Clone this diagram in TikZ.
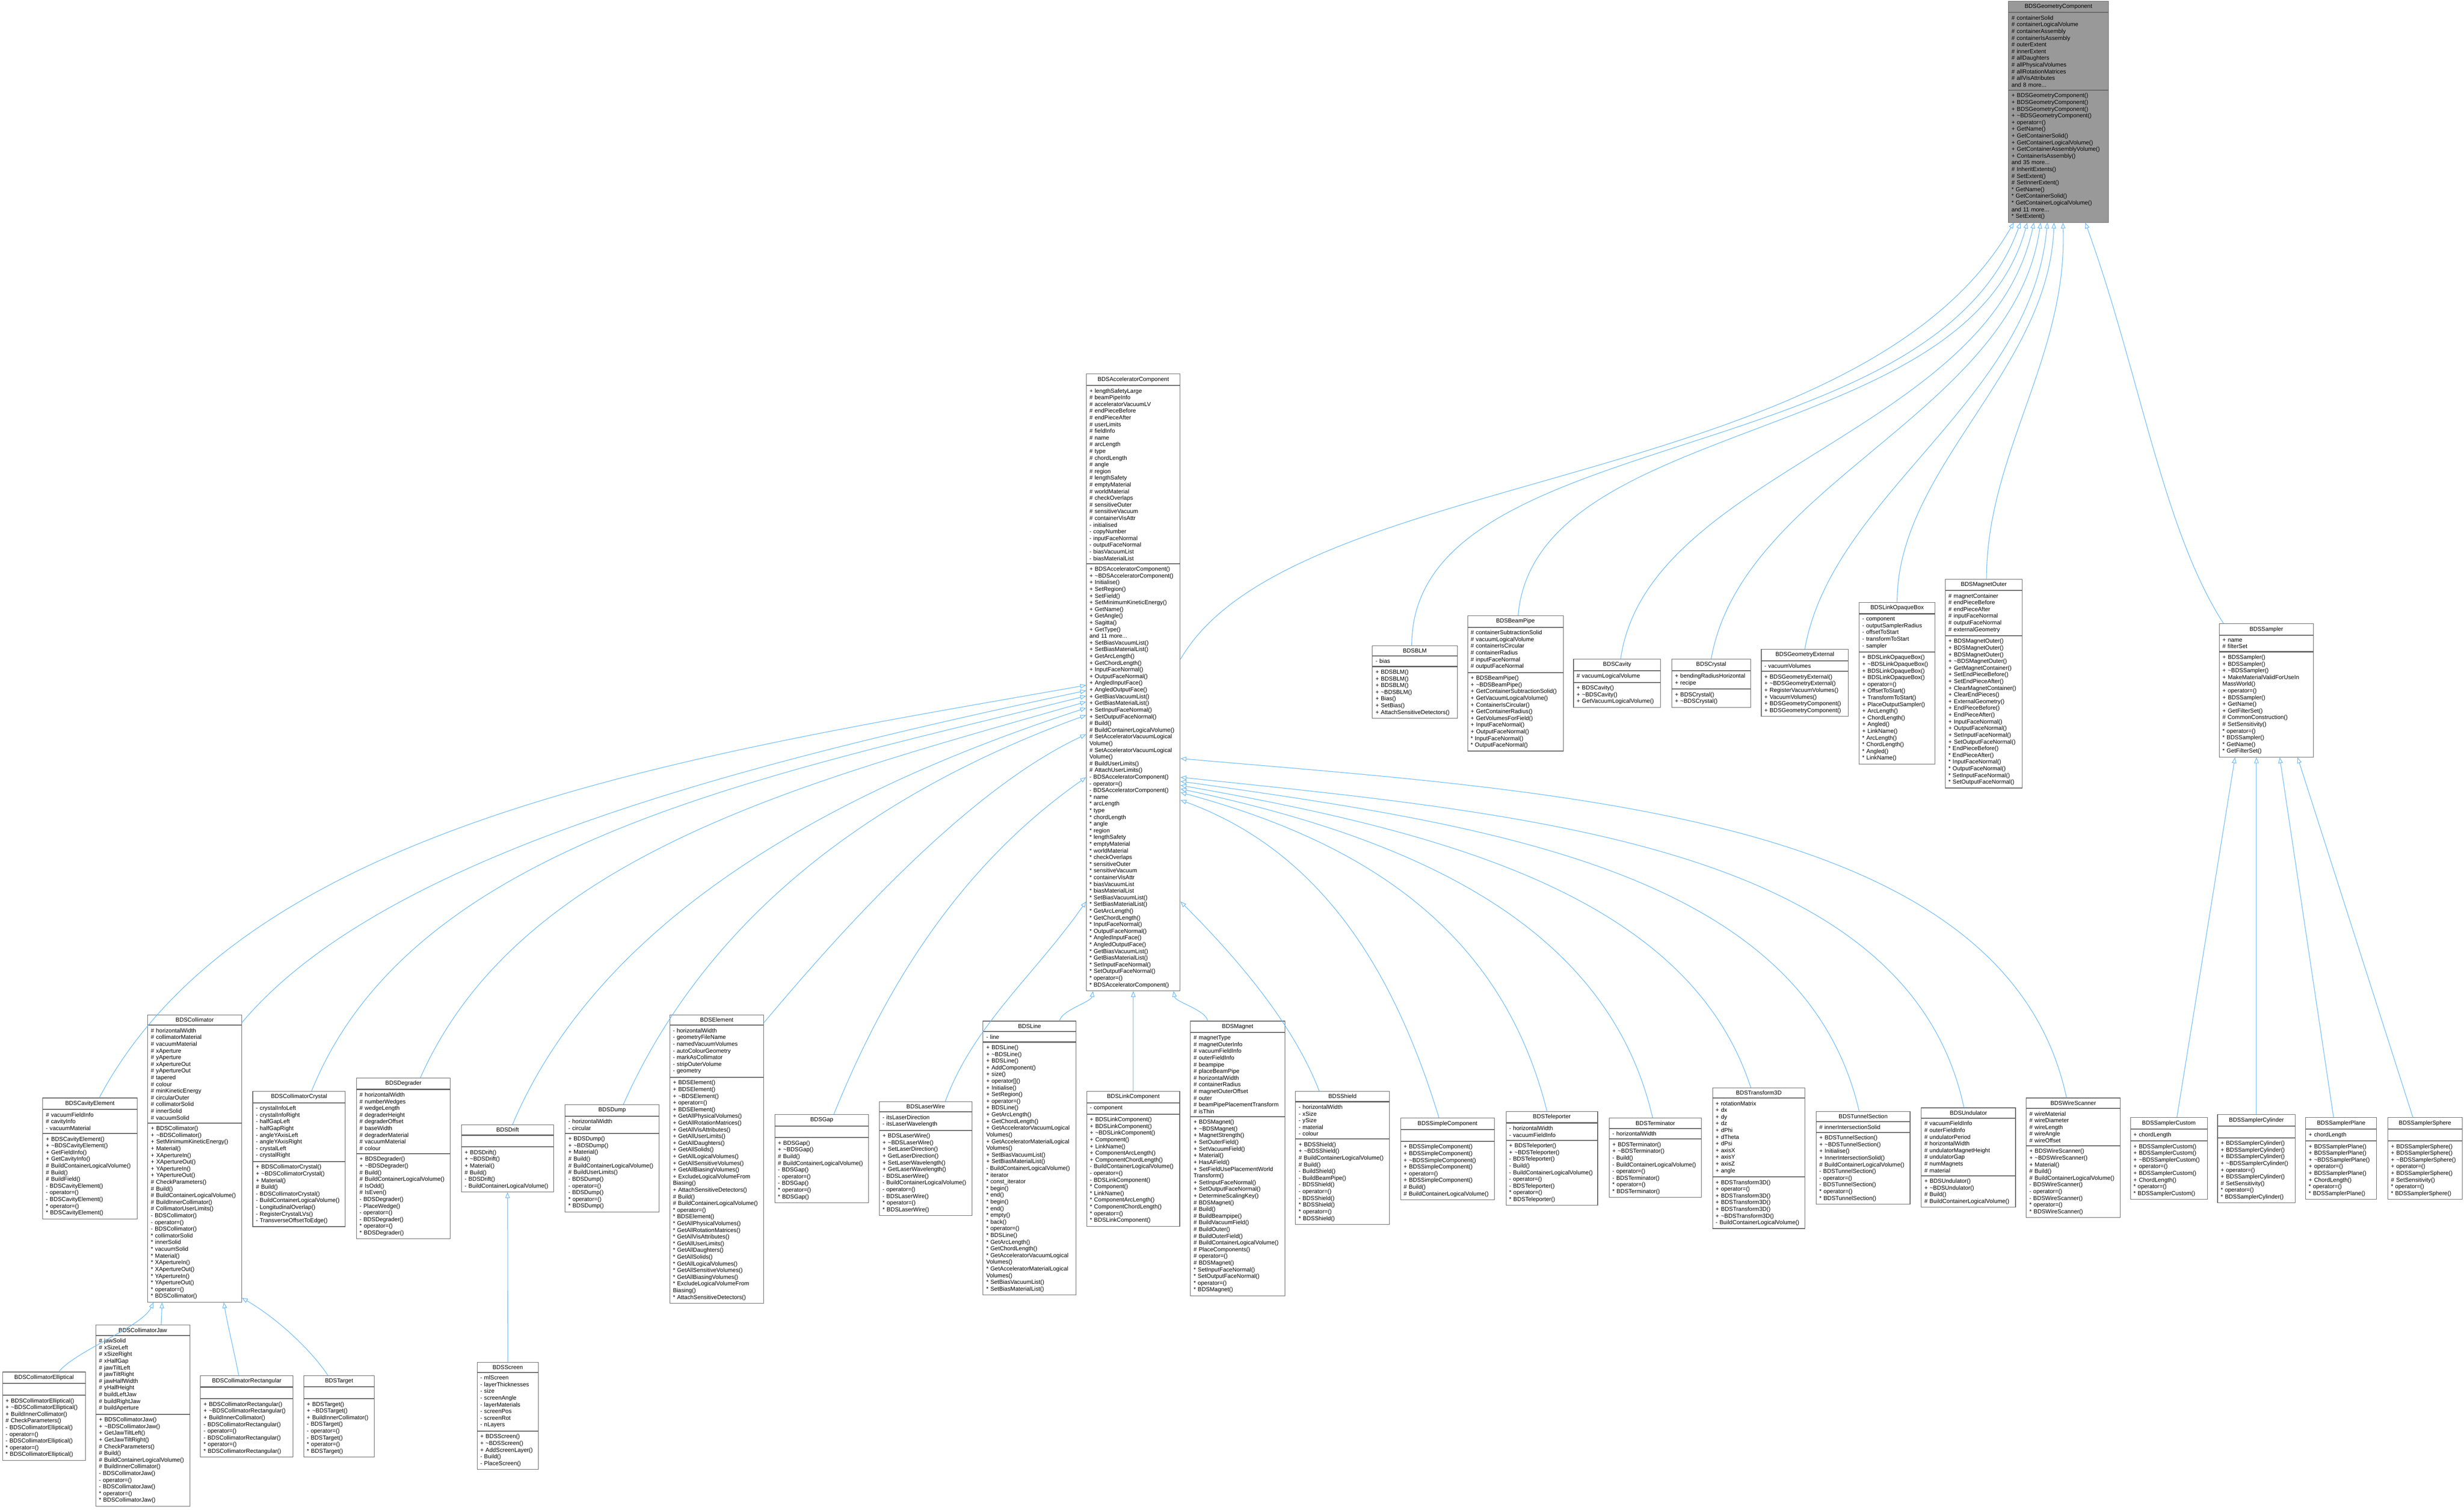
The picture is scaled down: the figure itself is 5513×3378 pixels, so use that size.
\documentclass[tikz,border=0pt]{standalone}
\usepackage{fontspec}
\setmainfont{Liberation Sans}
\usetikzlibrary{positioning,arrows.meta,calc}

\definecolor{inhblue}{HTML}{63B8FF}
\definecolor{boxgray}{HTML}{666666}
\definecolor{topgray}{HTML}{999999}
\newcommand{\clsfont}{\fontsize{13}{15}\selectfont}

\tikzset{
  ctitle/.style={draw=boxgray, line width=1.2pt, fill=white, anchor=north west,
    text width=#1pt, align=center, inner xsep=7pt, inner ysep=6.5pt, font=\clsfont},
  cpart/.style={draw=boxgray, line width=1.2pt, fill=white,
    text width=#1pt, align=left, inner xsep=7pt, inner ysep=6.5pt, font=\clsfont},
  cempty/.style={cpart=#1, minimum height=25pt},
  inh/.style={draw=inhblue, line width=1.2pt, {Triangle[open, length=13pt, width=10pt]}-}
}

\begin{document}
\begin{tikzpicture}[x=1pt, y=1pt]
  \useasboundingbox (0,0) rectangle (5513,-3378);

  % Base class
  \node[ctitle=210, fill=topgray] (geo) at (4493,-2) {BDSGeometryComponent};
  \node[cpart=210, fill=topgray, below=0pt of geo] (geoA) {\# containerSolid\\\# containerLogicalVolume\\\# containerAssembly\\\# containerIsAssembly\\\# outerExtent\\\# innerExtent\\\# allDaughters\\\# allPhysicalVolumes\\\# allRotationMatrices\\\# allVisAttributes\\and 8 more...};
  \node[cpart=210, fill=topgray, below=0pt of geoA] (geoM) {+ BDSGeometryComponent()\\+ BDSGeometryComponent()\\+ BDSGeometryComponent()\\+ \textasciitilde BDSGeometryComponent()\\+ operator=()\\+ GetName()\\+ GetContainerSolid()\\+ GetContainerLogicalVolume()\\+ GetContainerAssemblyVolume()\\+ ContainerIsAssembly()\\and 35 more...\\\# InheritExtents()\\\# SetExtent()\\\# SetInnerExtent()\\{}* GetName()\\{}* GetContainerSolid()\\{}* GetContainerLogicalVolume()\\and 11 more...\\{}* SetExtent()};

  % Accelerator component
  \node[ctitle=196] (acc) at (2430,-836) {BDSAcceleratorComponent};
  \node[cpart=196, below=0pt of acc] (accA) {+ lengthSafetyLarge\\\# beamPipeInfo\\\# acceleratorVacuumLV\\\# endPieceBefore\\\# endPieceAfter\\\# userLimits\\\# fieldInfo\\\# name\\\# arcLength\\\# type\\\# chordLength\\\# angle\\\# region\\\# lengthSafety\\\# emptyMaterial\\\# worldMaterial\\\# checkOverlaps\\\# sensitiveOuter\\\# sensitiveVacuum\\\# containerVisAttr\\- initialised\\- copyNumber\\- inputFaceNormal\\- outputFaceNormal\\- biasVacuumList\\- biasMaterialList};
  \node[cpart=196, below=0pt of accA] (accM) {+ BDSAcceleratorComponent()\\+ \textasciitilde BDSAcceleratorComponent()\\+ Initialise()\\+ SetRegion()\\+ SetField()\\+ SetMinimumKineticEnergy()\\+ GetName()\\+ GetAngle()\\+ Sagitta()\\+ GetType()\\and 11 more...\\+ SetBiasVacuumList()\\+ SetBiasMaterialList()\\+ GetArcLength()\\+ GetChordLength()\\+ InputFaceNormal()\\+ OutputFaceNormal()\\+ AngledInputFace()\\+ AngledOutputFace()\\+ GetBiasVacuumList()\\+ GetBiasMaterialList()\\+ SetInputFaceNormal()\\+ SetOutputFaceNormal()\\\# Build()\\\# BuildContainerLogicalVolume()\\\# SetAcceleratorVacuumLogical\\Volume()\\\# SetAcceleratorVacuumLogical\\Volume()\\\# BuildUserLimits()\\\# AttachUserLimits()\\- BDSAcceleratorComponent()\\- operator=()\\- BDSAcceleratorComponent()\\{}* name\\{}* arcLength\\{}* type\\{}* chordLength\\{}* angle\\{}* region\\{}* lengthSafety\\{}* emptyMaterial\\{}* worldMaterial\\{}* checkOverlaps\\{}* sensitiveOuter\\{}* sensitiveVacuum\\{}* containerVisAttr\\{}* biasVacuumList\\{}* biasMaterialList\\{}* SetBiasVacuumList()\\{}* SetBiasMaterialList()\\{}* GetArcLength()\\{}* GetChordLength()\\{}* InputFaceNormal()\\{}* OutputFaceNormal()\\{}* AngledInputFace()\\{}* AngledOutputFace()\\{}* GetBiasVacuumList()\\{}* GetBiasMaterialList()\\{}* SetInputFaceNormal()\\{}* SetOutputFaceNormal()\\{}* operator=()\\{}* BDSAcceleratorComponent()};

  % Other geometry components
  \node[ctitle=176] (blm) at (3070,-1444) {BDSBLM};
  \node[cpart=176, below=0pt of blm] (blmA) {- bias};
  \node[cpart=176, below=0pt of blmA] (blmM) {+ BDSBLM()\\+ BDSBLM()\\+ BDSBLM()\\+ \textasciitilde BDSBLM()\\+ Bias()\\+ SetBias()\\+ AttachSensitiveDetectors()};

  \node[ctitle=200] (pipe) at (3283,-1377) {BDSBeamPipe};
  \node[cpart=200, below=0pt of pipe] (pipeA) {\# containerSubtractionSolid\\\# vacuumLogicalVolume\\\# containerIsCircular\\\# containerRadius\\\# inputFaceNormal\\\# outputFaceNormal};
  \node[cpart=200, below=0pt of pipeA] (pipeM) {+ BDSBeamPipe()\\+ \textasciitilde BDSBeamPipe()\\+ GetContainerSubtractionSolid()\\+ GetVacuumLogicalVolume()\\+ ContainerIsCircular()\\+ GetContainerRadius()\\+ GetVolumesForField()\\+ InputFaceNormal()\\+ OutputFaceNormal()\\{}* InputFaceNormal()\\{}* OutputFaceNormal()};

  \node[ctitle=181] (cav) at (3520,-1474) {BDSCavity};
  \node[cpart=181, below=0pt of cav] (cavA) {\# vacuumLogicalVolume};
  \node[cpart=181, below=0pt of cavA] (cavM) {+ BDSCavity()\\+ \textasciitilde BDSCavity()\\+ GetVacuumLogicalVolume()};

  \node[ctitle=162] (cry) at (3740,-1474) {BDSCrystal};
  \node[cpart=162, below=0pt of cry] (cryA) {+ bendingRadiusHorizontal\\+ recipe};
  \node[cpart=162, below=0pt of cryA] (cryM) {+ BDSCrystal()\\+ \textasciitilde BDSCrystal()};

  \node[ctitle=181] (gext) at (3940,-1452) {BDSGeometryExternal};
  \node[cpart=181, below=0pt of gext] (gextA) {- vacuumVolumes};
  \node[cpart=181, below=0pt of gextA] (gextM) {+ BDSGeometryExternal()\\+ \textasciitilde BDSGeometryExternal()\\+ RegisterVacuumVolumes()\\+ VacuumVolumes()\\+ BDSGeometryComponent()\\+ BDSGeometryComponent()};

  \node[ctitle=156] (lbox) at (4159,-1347) {BDSLinkOpaqueBox};
  \node[cpart=156, below=0pt of lbox] (lboxA) {- component\\- outputSamplerRadius\\- offsetToStart\\- transformToStart\\- sampler};
  \node[cpart=156, below=0pt of lboxA] (lboxM) {+ BDSLinkOpaqueBox()\\+ \textasciitilde BDSLinkOpaqueBox()\\+ BDSLinkOpaqueBox()\\+ BDSLinkOpaqueBox()\\+ operator=()\\+ OffsetToStart()\\+ TransformToStart()\\+ PlaceOutputSampler()\\+ ArcLength()\\+ ChordLength()\\+ Angled()\\+ LinkName()\\{}* ArcLength()\\{}* ChordLength()\\{}* Angled()\\{}* LinkName()};

  \node[ctitle=158] (mout) at (4352,-1295) {BDSMagnetOuter};
  \node[cpart=158, below=0pt of mout] (moutA) {\# magnetContainer\\\# endPieceBefore\\\# endPieceAfter\\\# inputFaceNormal\\\# outputFaceNormal\\\# externalGeometry};
  \node[cpart=158, below=0pt of moutA] (moutM) {+ BDSMagnetOuter()\\+ BDSMagnetOuter()\\+ BDSMagnetOuter()\\+ \textasciitilde BDSMagnetOuter()\\+ GetMagnetContainer()\\+ SetEndPieceBefore()\\+ SetEndPieceAfter()\\+ ClearMagnetContainer()\\+ ClearEndPieces()\\+ ExternalGeometry()\\+ EndPieceBefore()\\+ EndPieceAfter()\\+ InputFaceNormal()\\+ OutputFaceNormal()\\+ SetInputFaceNormal()\\+ SetOutputFaceNormal()\\{}* EndPieceBefore()\\{}* EndPieceAfter()\\{}* InputFaceNormal()\\{}* OutputFaceNormal()\\{}* SetInputFaceNormal()\\{}* SetOutputFaceNormal()};

  \node[ctitle=196] (smp) at (4965,-1395) {BDSSampler};
  \node[cpart=196, below=0pt of smp] (smpA) {+ name\\\# filterSet};
  \node[cpart=196, below=0pt of smpA] (smpM) {+ BDSSampler()\\+ BDSSampler()\\+ \textasciitilde BDSSampler()\\+ MakeMaterialValidForUseIn\\MassWorld()\\+ operator=()\\+ BDSSampler()\\+ GetName()\\+ GetFilterSet()\\\# CommonConstruction()\\\# SetSensitivity()\\{}* operator=()\\{}* BDSSampler()\\{}* GetName()\\{}* GetFilterSet()};

  % Accelerator components, bottom row
  \node[ctitle=197] (cavel) at (95,-2456) {BDSCavityElement};
  \node[cpart=197, below=0pt of cavel] (cavelA) {\# vacuumFieldInfo\\\# cavityInfo\\- vacuumMaterial};
  \node[cpart=197, below=0pt of cavelA] (cavelM) {+ BDSCavityElement()\\+ \textasciitilde BDSCavityElement()\\+ GetFieldInfo()\\+ GetCavityInfo()\\\# BuildContainerLogicalVolume()\\\# Build()\\\# BuildField()\\- BDSCavityElement()\\- operator=()\\- BDSCavityElement()\\{}* operator=()\\{}* BDSCavityElement()};

  \node[ctitle=196] (coll) at (330,-2270) {BDSCollimator};
  \node[cpart=196, below=0pt of coll] (collA) {\# horizontalWidth\\\# collimatorMaterial\\\# vacuumMaterial\\\# xAperture\\\# yAperture\\\# xApertureOut\\\# yApertureOut\\\# tapered\\\# colour\\\# minKineticEnergy\\\# circularOuter\\\# collimatorSolid\\\# innerSolid\\\# vacuumSolid};
  \node[cpart=196, below=0pt of collA] (collM) {+ BDSCollimator()\\+ \textasciitilde BDSCollimator()\\+ SetMinimumKineticEnergy()\\+ Material()\\+ XApertureIn()\\+ XApertureOut()\\+ YApertureIn()\\+ YApertureOut()\\\# CheckParameters()\\\# Build()\\\# BuildContainerLogicalVolume()\\\# BuildInnerCollimator()\\\# CollimatorUserLimits()\\- BDSCollimator()\\- operator=()\\- BDSCollimator()\\{}* collimatorSolid\\{}* innerSolid\\{}* vacuumSolid\\{}* Material()\\{}* XApertureIn()\\{}* XApertureOut()\\{}* YApertureIn()\\{}* YApertureOut()\\{}* operator=()\\{}* BDSCollimator()};

  \node[ctitle=193] (ccry) at (565,-2441) {BDSCollimatorCrystal};
  \node[cpart=193, below=0pt of ccry] (ccryA) {- crystalInfoLeft\\- crystalInfoRight\\- halfGapLeft\\- halfGapRight\\- angleYAxisLeft\\- angleYAxisRight\\- crystalLeft\\- crystalRight};
  \node[cpart=193, below=0pt of ccryA] (ccryM) {+ BDSCollimatorCrystal()\\+ \textasciitilde BDSCollimatorCrystal()\\+ Material()\\\# Build()\\- BDSCollimatorCrystal()\\- BuildContainerLogicalVolume()\\- LongitudinalOverlap()\\- RegisterCrystalLVs()\\- TransverseOffsetToEdge()};

  \node[ctitle=196] (degr) at (797,-2411) {BDSDegrader};
  \node[cpart=196, below=0pt of degr] (degrA) {\# horizontalWidth\\\# numberWedges\\\# wedgeLength\\\# degraderHeight\\\# degraderOffset\\\# baseWidth\\\# degraderMaterial\\\# vacuumMaterial\\\# colour};
  \node[cpart=196, below=0pt of degrA] (degrM) {+ BDSDegrader()\\+ \textasciitilde BDSDegrader()\\\# Build()\\\# BuildContainerLogicalVolume()\\\# IsOdd()\\\# IsEven()\\- BDSDegrader()\\- PlaceWedge()\\- operator=()\\- BDSDegrader()\\{}* operator=()\\{}* BDSDegrader()};

  \node[ctitle=192] (drift) at (1032,-2516) {BDSDrift};
  \node[cempty=192, below=0pt of drift] (driftA) {};
  \node[cpart=192, below=0pt of driftA] (driftM) {+ BDSDrift()\\+ \textasciitilde BDSDrift()\\+ Material()\\\# Build()\\- BDSDrift()\\- BuildContainerLogicalVolume()};

  \node[ctitle=196] (dump) at (1264,-2471) {BDSDump};
  \node[cpart=196, below=0pt of dump] (dumpA) {- horizontalWidth\\- circular};
  \node[cpart=196, below=0pt of dumpA] (dumpM) {+ BDSDump()\\+ \textasciitilde BDSDump()\\+ Material()\\\# Build()\\\# BuildContainerLogicalVolume()\\\# BuildUserLimits()\\- BDSDump()\\- operator=()\\- BDSDump()\\{}* operator=()\\{}* BDSDump()};

  \node[ctitle=196] (elem) at (1498,-2270) {BDSElement};
  \node[cpart=196, below=0pt of elem] (elemA) {- horizontalWidth\\- geometryFileName\\- namedVacuumVolumes\\- autoColourGeometry\\- markAsCollimator\\- stripOuterVolume\\- geometry};
  \node[cpart=196, below=0pt of elemA] (elemM) {+ BDSElement()\\+ BDSElement()\\+ \textasciitilde BDSElement()\\+ operator=()\\+ BDSElement()\\+ GetAllPhysicalVolumes()\\+ GetAllRotationMatrices()\\+ GetAllVisAttributes()\\+ GetAllUserLimits()\\+ GetAllDaughters()\\+ GetAllSolids()\\+ GetAllLogicalVolumes()\\+ GetAllSensitiveVolumes()\\+ GetAllBiasingVolumes()\\+ ExcludeLogicalVolumeFrom\\Biasing()\\+ AttachSensitiveDetectors()\\\# Build()\\\# BuildContainerLogicalVolume()\\{}* operator=()\\{}* BDSElement()\\{}* GetAllPhysicalVolumes()\\{}* GetAllRotationMatrices()\\{}* GetAllVisAttributes()\\{}* GetAllUserLimits()\\{}* GetAllDaughters()\\{}* GetAllSolids()\\{}* GetAllLogicalVolumes()\\{}* GetAllSensitiveVolumes()\\{}* GetAllBiasingVolumes()\\{}* ExcludeLogicalVolumeFrom\\Biasing()\\{}* AttachSensitiveDetectors()};

  \node[ctitle=196] (gap) at (1733,-2493) {BDSGap};
  \node[cempty=196, below=0pt of gap] (gapA) {};
  \node[cpart=196, below=0pt of gapA] (gapM) {+ BDSGap()\\+ \textasciitilde BDSGap()\\\# Build()\\\# BuildContainerLogicalVolume()\\- BDSGap()\\- operator=()\\- BDSGap()\\{}* operator=()\\{}* BDSGap()};

  \node[ctitle=193] (lw) at (1967,-2464) {BDSLaserWire};
  \node[cpart=193, below=0pt of lw] (lwA) {- itsLaserDirection\\- itsLaserWavelength};
  \node[cpart=193, below=0pt of lwA] (lwM) {+ BDSLaserWire()\\+ \textasciitilde BDSLaserWire()\\+ SetLaserDirection()\\+ GetLaserDirection()\\+ SetLaserWavelength()\\+ GetLaserWavelength()\\- BDSLaserWire()\\- BuildContainerLogicalVolume()\\- operator=()\\- BDSLaserWire()\\{}* operator=()\\{}* BDSLaserWire()};

  \node[ctitle=194] (line) at (2199,-2284) {BDSLine};
  \node[cpart=194, below=0pt of line] (lineA) {- line};
  \node[cpart=194, below=0pt of lineA] (lineM) {+ BDSLine()\\+ \textasciitilde BDSLine()\\+ BDSLine()\\+ AddComponent()\\+ size()\\+ operator[]()\\+ Initialise()\\+ SetRegion()\\+ operator=()\\+ BDSLine()\\+ GetArcLength()\\+ GetChordLength()\\+ GetAcceleratorVacuumLogical\\Volumes()\\+ GetAcceleratorMaterialLogical\\Volumes()\\+ SetBiasVacuumList()\\+ SetBiasMaterialList()\\- BuildContainerLogicalVolume()\\{}* iterator\\{}* const\_iterator\\{}* begin()\\{}* end()\\{}* begin()\\{}* end()\\{}* empty()\\{}* back()\\{}* operator=()\\{}* BDSLine()\\{}* GetArcLength()\\{}* GetChordLength()\\{}* GetAcceleratorVacuumLogical\\Volumes()\\{}* GetAcceleratorMaterialLogical\\Volumes()\\{}* SetBiasVacuumList()\\{}* SetBiasMaterialList()};

  \node[ctitle=194] (link) at (2431,-2441) {BDSLinkComponent};
  \node[cpart=194, below=0pt of link] (linkA) {- component};
  \node[cpart=194, below=0pt of linkA] (linkM) {+ BDSLinkComponent()\\+ BDSLinkComponent()\\+ \textasciitilde BDSLinkComponent()\\+ Component()\\+ LinkName()\\+ ComponentArcLength()\\+ ComponentChordLength()\\- BuildContainerLogicalVolume()\\- operator=()\\- BDSLinkComponent()\\{}* Component()\\{}* LinkName()\\{}* ComponentArcLength()\\{}* ComponentChordLength()\\{}* operator=()\\{}* BDSLinkComponent()};

  \node[ctitle=197] (mag) at (2663,-2284) {BDSMagnet};
  \node[cpart=197, below=0pt of mag] (magA) {\# magnetType\\\# magnetOuterInfo\\\# vacuumFieldInfo\\\# outerFieldInfo\\\# beampipe\\\# placeBeamPipe\\\# horizontalWidth\\\# containerRadius\\\# magnetOuterOffset\\\# outer\\\# beamPipePlacementTransform\\\# isThin};
  \node[cpart=197, below=0pt of magA] (magM) {+ BDSMagnet()\\+ \textasciitilde BDSMagnet()\\+ MagnetStrength()\\+ SetOuterField()\\+ SetVacuumField()\\+ Material()\\+ HasAField()\\+ SetFieldUsePlacementWorld\\Transform()\\+ SetInputFaceNormal()\\+ SetOutputFaceNormal()\\+ DetermineScalingKey()\\\# BDSMagnet()\\\# Build()\\\# BuildBeampipe()\\\# BuildVacuumField()\\\# BuildOuter()\\\# BuildOuterField()\\\# BuildContainerLogicalVolume()\\\# PlaceComponents()\\\# operator=()\\\# BDSMagnet()\\{}* SetInputFaceNormal()\\{}* SetOutputFaceNormal()\\{}* operator=()\\{}* BDSMagnet()};

  \node[ctitle=196] (shld) at (2898,-2441) {BDSShield};
  \node[cpart=196, below=0pt of shld] (shldA) {- horizontalWidth\\- xSize\\- ySize\\- material\\- colour};
  \node[cpart=196, below=0pt of shldA] (shldM) {+ BDSShield()\\+ \textasciitilde BDSShield()\\\# BuildContainerLogicalVolume()\\\# Build()\\- BuildShield()\\- BuildBeamPipe()\\- BDSShield()\\- operator=()\\- BDSShield()\\{}* BDSShield()\\{}* operator=()\\{}* BDSShield()};

  \node[ctitle=196] (simp) at (3133,-2501) {BDSSimpleComponent};
  \node[cempty=196, below=0pt of simp] (simpA) {};
  \node[cpart=196, below=0pt of simpA] (simpM) {+ BDSSimpleComponent()\\+ BDSSimpleComponent()\\+ \textasciitilde BDSSimpleComponent()\\+ BDSSimpleComponent()\\+ operator=()\\+ BDSSimpleComponent()\\\# Build()\\\# BuildContainerLogicalVolume()};

  \node[ctitle=191] (tele) at (3369,-2486) {BDSTeleporter};
  \node[cpart=191, below=0pt of tele] (teleA) {- horizontalWidth\\- vacuumFieldInfo};
  \node[cpart=191, below=0pt of teleA] (teleM) {+ BDSTeleporter()\\+ \textasciitilde BDSTeleporter()\\- BDSTeleporter()\\- Build()\\- BuildContainerLogicalVolume()\\- operator=()\\- BDSTeleporter()\\{}* operator=()\\{}* BDSTeleporter()};

  \node[ctitle=192] (term) at (3600,-2501) {BDSTerminator};
  \node[cpart=192, below=0pt of term] (termA) {- horizontalWidth};
  \node[cpart=192, below=0pt of termA] (termM) {+ BDSTerminator()\\+ \textasciitilde BDSTerminator()\\- Build()\\- BuildContainerLogicalVolume()\\- operator=()\\- BDSTerminator()\\{}* operator=()\\{}* BDSTerminator()};

  \node[ctitle=193] (trf) at (3831,-2433) {BDSTransform3D};
  \node[cpart=193, below=0pt of trf] (trfA) {+ rotationMatrix\\+ dx\\+ dy\\+ dz\\+ dPhi\\+ dTheta\\+ dPsi\\+ axisX\\+ axisY\\+ axisZ\\+ angle};
  \node[cpart=193, below=0pt of trfA] (trfM) {+ BDSTransform3D()\\+ operator=()\\+ BDSTransform3D()\\+ BDSTransform3D()\\+ BDSTransform3D()\\+ \textasciitilde BDSTransform3D()\\- BuildContainerLogicalVolume()};

  \node[ctitle=196] (tun) at (4063,-2486) {BDSTunnelSection};
  \node[cpart=196, below=0pt of tun] (tunA) {\# innerIntersectionSolid};
  \node[cpart=196, below=0pt of tunA] (tunM) {+ BDSTunnelSection()\\+ \textasciitilde BDSTunnelSection()\\+ Initialise()\\+ InnerIntersectionSolid()\\\# BuildContainerLogicalVolume()\\- BDSTunnelSection()\\- operator=()\\- BDSTunnelSection()\\{}* operator=()\\{}* BDSTunnelSection()};

  \node[ctitle=197] (und) at (4298,-2478) {BDSUndulator};
  \node[cpart=197, below=0pt of und] (undA) {\# vacuumFieldInfo\\\# outerFieldInfo\\\# undulatorPeriod\\\# horizontalWidth\\\# undulatorMagnetHeight\\\# undulatorGap\\\# numMagnets\\\# material};
  \node[cpart=197, below=0pt of undA] (undM) {+ BDSUndulator()\\+ \textasciitilde BDSUndulator()\\\# Build()\\\# BuildContainerLogicalVolume()};

  \node[ctitle=196] (ws) at (4533,-2456) {BDSWireScanner};
  \node[cpart=196, below=0pt of ws] (wsA) {\# wireMaterial\\\# wireDiameter\\\# wireLength\\\# wireAngle\\\# wireOffset};
  \node[cpart=196, below=0pt of wsA] (wsM) {+ BDSWireScanner()\\+ \textasciitilde BDSWireScanner()\\+ Material()\\\# Build()\\\# BuildContainerLogicalVolume()\\- BDSWireScanner()\\- operator=()\\- BDSWireScanner()\\{}* operator=()\\{}* BDSWireScanner()};

  % Samplers
  \node[ctitle=158] (sc) at (4766,-2500) {BDSSamplerCustom};
  \node[cpart=158, below=0pt of sc] (scA) {+ chordLength};
  \node[cpart=158, below=0pt of scA] (scM) {+ BDSSamplerCustom()\\+ BDSSamplerCustom()\\+ \textasciitilde BDSSamplerCustom()\\+ operator=()\\+ BDSSamplerCustom()\\+ ChordLength()\\{}* operator=()\\{}* BDSSamplerCustom()};

  \node[ctitle=160] (scy) at (4961,-2493) {BDSSamplerCylinder};
  \node[cempty=160, below=0pt of scy] (scyA) {};
  \node[cpart=160, below=0pt of scyA] (scyM) {+ BDSSamplerCylinder()\\+ BDSSamplerCylinder()\\+ BDSSamplerCylinder()\\+ \textasciitilde BDSSamplerCylinder()\\+ operator=()\\+ BDSSamplerCylinder()\\\# SetSensitivity()\\{}* operator=()\\{}* BDSSamplerCylinder()};

  \node[ctitle=145] (spl) at (5158,-2500) {BDSSamplerPlane};
  \node[cpart=145, below=0pt of spl] (splA) {+ chordLength};
  \node[cpart=145, below=0pt of splA] (splM) {+ BDSSamplerPlane()\\+ BDSSamplerPlane()\\+ \textasciitilde BDSSamplerPlane()\\+ operator=()\\+ BDSSamplerPlane()\\+ ChordLength()\\{}* operator=()\\{}* BDSSamplerPlane()};

  \node[ctitle=152] (ssp) at (5342,-2500) {BDSSamplerSphere};
  \node[cempty=152, below=0pt of ssp] (sspA) {};
  \node[cpart=152, below=0pt of sspA] (sspM) {+ BDSSamplerSphere()\\+ BDSSamplerSphere()\\+ \textasciitilde BDSSamplerSphere()\\+ operator=()\\+ BDSSamplerSphere()\\\# SetSensitivity()\\{}* operator=()\\{}* BDSSamplerSphere()};

  % Collimators and screen
  \node[ctitle=172] (cell) at (5,-3069) {BDSCollimatorElliptical};
  \node[cempty=172, below=0pt of cell] (cellA) {};
  \node[cpart=172, below=0pt of cellA] (cellM) {+ BDSCollimatorElliptical()\\+ \textasciitilde BDSCollimatorElliptical()\\+ BuildInnerCollimator()\\\# CheckParameters()\\- BDSCollimatorElliptical()\\- operator=()\\- BDSCollimatorElliptical()\\{}* operator=()\\{}* BDSCollimatorElliptical()};

  \node[ctitle=196] (cjaw) at (214,-2964) {BDSCollimatorJaw};
  \node[cpart=196, below=0pt of cjaw] (cjawA) {\# jawSolid\\\# xSizeLeft\\\# xSizeRight\\\# xHalfGap\\\# jawTiltLeft\\\# jawTiltRight\\\# jawHalfWidth\\\# yHalfHeight\\\# buildLeftJaw\\\# buildRightJaw\\\# buildAperture};
  \node[cpart=196, below=0pt of cjawA] (cjawM) {+ BDSCollimatorJaw()\\+ \textasciitilde BDSCollimatorJaw()\\+ GetJawTiltLeft()\\+ GetJawTiltRight()\\\# CheckParameters()\\\# Build()\\\# BuildContainerLogicalVolume()\\\# BuildInnerCollimator()\\- BDSCollimatorJaw()\\- operator=()\\- BDSCollimatorJaw()\\{}* operator=()\\{}* BDSCollimatorJaw()};

  \node[ctitle=193] (crect) at (448,-3077) {BDSCollimatorRectangular};
  \node[cempty=193, below=0pt of crect] (crectA) {};
  \node[cpart=193, below=0pt of crectA] (crectM) {+ BDSCollimatorRectangular()\\+ \textasciitilde BDSCollimatorRectangular()\\+ BuildInnerCollimator()\\- BDSCollimatorRectangular()\\- operator=()\\- BDSCollimatorRectangular()\\{}* operator=()\\{}* BDSCollimatorRectangular()};

  \node[ctitle=144] (targ) at (679,-3077) {BDSTarget};
  \node[cempty=144, below=0pt of targ] (targA) {};
  \node[cpart=144, below=0pt of targA] (targM) {+ BDSTarget()\\+ \textasciitilde BDSTarget()\\+ BuildInnerCollimator()\\- BDSTarget()\\- operator=()\\- BDSTarget()\\{}* operator=()\\{}* BDSTarget()};

  \node[ctitle=123] (scr) at (1067,-3047) {BDSScreen};
  \node[cpart=123, below=0pt of scr] (scrA) {- mlScreen\\- layerThicknesses\\- size\\- screenAngle\\- layerMaterials\\- screenPos\\- screenRot\\- nLayers};
  \node[cpart=123, below=0pt of scrA] (scrM) {+ BDSScreen()\\+ \textasciitilde BDSScreen()\\+ AddScreenLayer()\\- Build()\\- PlaceScreen()};

  % Arrow ends on the base classes
  \coordinate (accT) at ([yshift=-639pt]acc.north east);
  \coordinate (accL1) at ([yshift=-697pt]acc.north west);
  \coordinate (accL2) at ([yshift=-709pt]acc.north west);
  \coordinate (accL3) at ([yshift=-721pt]acc.north west);
  \coordinate (accL4) at ([yshift=-734pt]acc.north west);
  \coordinate (accL5) at ([yshift=-748pt]acc.north west);
  \coordinate (accL6) at ([yshift=-764pt]acc.north west);
  \coordinate (accL7) at ([yshift=-807pt]acc.north west);
  \coordinate (accL8) at ([yshift=-903pt]acc.north west);
  \coordinate (accL9) at ([yshift=-1181pt]acc.north west);
  \coordinate (accR1) at ([yshift=-861pt]acc.north east);
  \coordinate (accR2) at ([yshift=-903pt]acc.north east);
  \coordinate (accR3) at ([yshift=-912pt]acc.north east);
  \coordinate (accR4) at ([yshift=-921pt]acc.north east);
  \coordinate (accR5) at ([yshift=-929pt]acc.north east);
  \coordinate (accR6) at ([yshift=-937pt]acc.north east);
  \coordinate (accR7) at ([yshift=-954pt]acc.north east);
  \coordinate (accR8) at ([yshift=-1181pt]acc.north east);
  \coordinate (accB1) at ([xshift=-90pt]accM.south);
  \coordinate (accB3) at ([xshift=90pt]accM.south);
  \coordinate (geoP1) at ([xshift=-100pt]geoM.south);
  \coordinate (geoP2) at ([xshift=-85pt]geoM.south);
  \coordinate (geoP3) at ([xshift=-70pt]geoM.south);
  \coordinate (geoP4) at ([xshift=-55pt]geoM.south);
  \coordinate (geoP5) at ([xshift=-40pt]geoM.south);
  \coordinate (geoP6) at ([xshift=-25pt]geoM.south);
  \coordinate (geoP7) at ([xshift=-10pt]geoM.south);
  \coordinate (geoP8) at ([xshift=10pt]geoM.south);
  \coordinate (geoP9) at ([xshift=60pt]geoM.south);
  \coordinate (smpB1) at ([xshift=-70pt]smpM.south);
  \coordinate (smpB2) at ([xshift=-22pt]smpM.south);
  \coordinate (smpB3) at ([xshift=30pt]smpM.south);
  \coordinate (smpB4) at ([xshift=70pt]smpM.south);
  \coordinate (collB1) at ([xshift=-92pt]collM.south);
  \coordinate (collB2) at ([xshift=-73pt]collM.south);
  \coordinate (collB3) at ([xshift=65pt]collM.south);
  \coordinate (collR) at ([yshift=10pt]collM.south east);

  % Inheritance to BDSGeometryComponent
  \draw[inh] (geoP1) .. controls +(240:700) and +(60:500) .. (accT);
  \draw[inh] (geoP2) .. controls +(250:600) and +(90:500) .. ([xshift=-7pt]blm.north);
  \draw[inh] (geoP3) .. controls +(255:520) and +(85:450) .. ([xshift=6pt]pipe.north);
  \draw[inh] (geoP4) .. controls +(258:480) and +(82:420) .. ([xshift=8pt]cav.north);
  \draw[inh] (geoP5) .. controls +(262:430) and +(80:400) .. (cry.north);
  \draw[inh] (geoP6) .. controls +(265:400) and +(80:350) .. (gext.north);
  \draw[inh] (geoP7) .. controls +(268:330) and +(90:300) .. (lbox.north);
  \draw[inh] (geoP8) .. controls +(272:300) and +(90:280) .. ([xshift=6pt]mout.north);
  \draw[inh] (geoP9) .. controls +(290:350) and +(123:250) .. ([xshift=10pt]smp.north west);

  % Inheritance to BDSAcceleratorComponent
  \draw[inh] (accL1) .. controls +(190:900) and +(62:700) .. ([xshift=21pt]cavel.north);
  \draw[inh] (accL2) .. controls +(192:750) and +(50:500) .. ([yshift=-18pt]coll.north east);
  \draw[inh] (accL3) .. controls +(194:750) and +(68:600) .. ([xshift=28pt]ccry.north);
  \draw[inh] (accL4) .. controls +(196:650) and +(66:550) .. ([xshift=38pt]degr.north);
  \draw[inh] (accL5) .. controls +(198:600) and +(67:500) .. ([xshift=11pt]drift.north);
  \draw[inh] (accL6) .. controls +(200:520) and +(66:450) .. ([xshift=25pt]dump.north);
  \draw[inh] (accL7) .. controls +(205:300) and +(50:250) .. ([yshift=-18pt]elem.north east);
  \draw[inh] (accL8) .. controls +(215:350) and +(68:300) .. ([xshift=27pt]gap.north);
  \draw[inh] (accL9) .. controls +(235:200) and +(70:180) .. ([xshift=44pt]lw.north);
  \draw[inh] (accB1) .. controls +(-100:25) and +(78:25) .. ([xshift=67pt]line.north);
  \draw[inh] (accM.south) -- (link.north);
  \draw[inh] (accB3) .. controls +(-80:25) and +(100:25) .. ([xshift=-67pt]mag.north);
  \draw[inh] (accR8) .. controls +(-45:200) and +(111:150) .. ([xshift=-52pt]shld.north);
  \draw[inh] (accR7) .. controls +(-20:350) and +(107:320) .. ([xshift=-19pt]simp.north);
  \draw[inh] (accR6) .. controls +(-15:450) and +(104:400) .. ([xshift=-11pt]tele.north);
  \draw[inh] (accR5) .. controls +(-12:520) and +(103:450) .. ([xshift=-6pt]term.north);
  \draw[inh] (accR4) .. controls +(-10:600) and +(108:450) .. ([xshift=-18pt]trf.north);
  \draw[inh] (accR3) .. controls +(-8:700) and +(103:550) .. ([xshift=-9pt]tun.north);
  \draw[inh] (accR2) .. controls +(-6:780) and +(102:600) .. ([xshift=-10pt]und.north);
  \draw[inh] (accR1) .. controls +(-5:850) and +(102:650) .. ([xshift=-15pt]ws.north);

  % Inheritance to BDSSampler
  \draw[inh] (smpB1) -- ([xshift=18pt]sc.north);
  \draw[inh] (smpB2) -- (scy.north);
  \draw[inh] (smpB3) -- ([xshift=-17pt]spl.north);
  \draw[inh] (smpB4) -- ([xshift=-27pt]ssp.north);

  % Inheritance to BDSCollimator and BDSDrift
  \draw[inh] (collB1) .. controls +(-115:60) and +(51:60) .. ([xshift=33pt]cell.north);
  \draw[inh] (collB2) -- ([xshift=41pt]cjaw.north);
  \draw[inh] (collB3) .. controls +(-80:60) and +(101:60) .. ([xshift=-18pt]crect.north);
  \draw[inh] (collR) .. controls +(-30:80) and +(124:80) .. ([xshift=-25pt]targ.north);
  \draw[inh] (driftM.south) -- (scr.north);
\end{tikzpicture}
\end{document}
